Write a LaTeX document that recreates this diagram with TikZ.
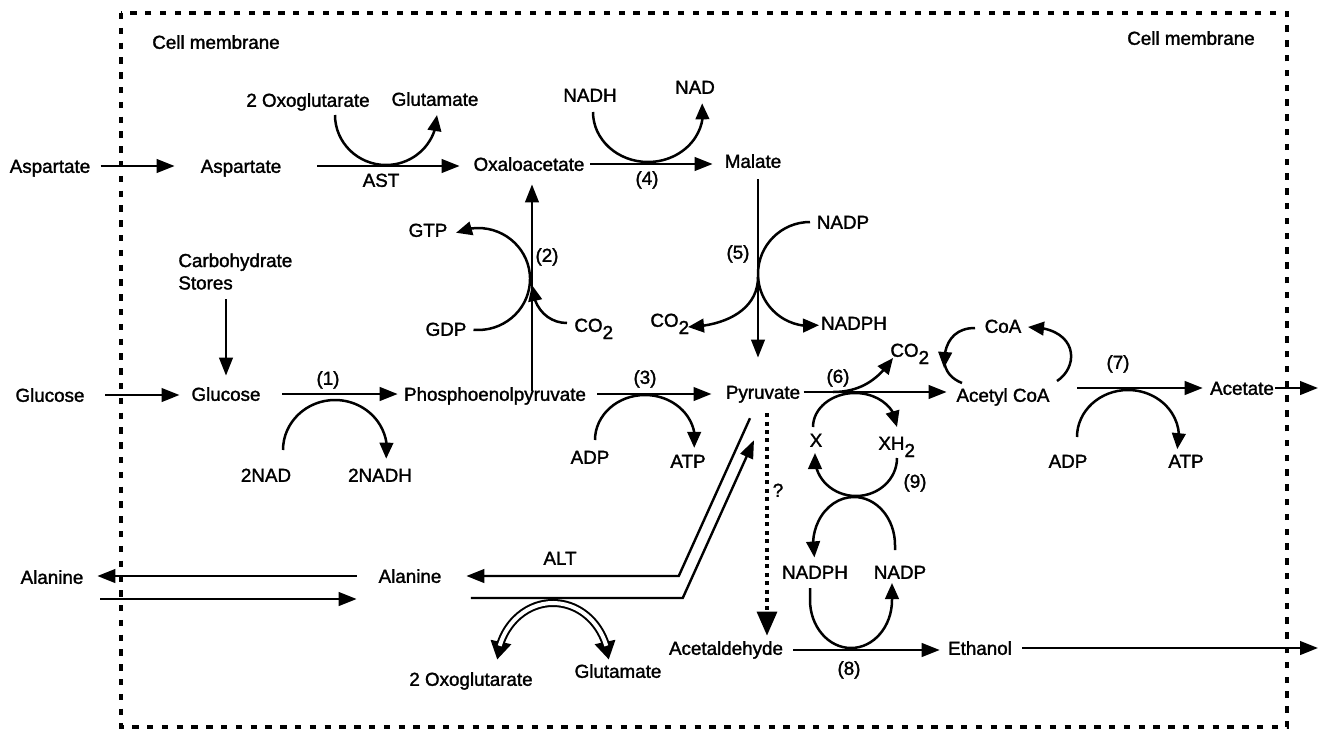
\documentclass[tikz,border=0pt]{standalone}
\usepackage{fontspec}
\setmainfont{Liberation Sans}[FakeBold=1.6]
\usetikzlibrary{arrows.meta,bending}
\newcommand{\lowtwo}{\smash{\raisebox{-3.6pt}{2}}}
\begin{document}
\begin{tikzpicture}[x=0.5pt,y=0.5pt,
  lbl/.style={font=\fontsize{9.4}{11.2}\selectfont, inner sep=0pt, text height=6.8pt, text depth=0pt},
  arr/.style={line width=1.2pt, -{Triangle[length=9pt,width=6.8pt]}},
  carc/.style={line width=1.25pt, -{Triangle[length=8pt,width=6.8pt]}},
  cln/.style={line width=1.25pt},
  membrane/.style={line width=1.6pt, dash pattern=on 3.2pt off 4.2pt},
  dasharr/.style={line width=1.6pt, dash pattern=on 2pt off 2.2pt, -{Triangle[length=12pt,width=10pt]}},
  bandout/.style={line width=4pt, {Triangle[length=9pt,width=10pt]}-{Triangle[length=9pt,width=10pt]}},
  bandin/.style={line width=2pt, white}
]
\useasboundingbox (0,0) rectangle (1318,-734);
\draw[membrane] (121,-13) rectangle (1287,-727);

% ---------- labels ----------
\node[lbl] (cmA) at (216,-42) {Cell membrane};
\node[lbl] (cmB) at (1191,-38) {Cell membrane};
\node[lbl] (aspO) at (50,-166) {Aspartate};
\node[lbl] (aspI) at (241,-166) {Aspartate};
\node[lbl] (oxgA) at (308,-100) {2 Oxoglutarate};
\node[lbl] (gluA) at (435,-99) {Glutamate};
\node[lbl] (ast) at (381,-180) {AST};
\node[lbl] (oxa) at (529,-164) {Oxaloacetate};
\node[lbl] (nadhA) at (590,-95) {NADH};
\node[lbl] (nadA) at (695,-87) {NAD};
\node[lbl] (r4) at (647,-178) {(4)};
\node[lbl] (mal) at (753,-161) {Malate};
\node[lbl] (gtp) at (428,-230) {GTP};
\node[lbl] (r2) at (547,-255) {(2)};
\node[lbl] (gdp) at (446,-329) {GDP};
\node[lbl,anchor=west] (co2A) at (574,-325) {CO\lowtwo};
\node[lbl] (r5) at (738,-252) {(5)};
\node[lbl] (nadpA) at (843,-222) {NADP};
\node[lbl,anchor=west] (co2B) at (650,-320) {CO\lowtwo};
\node[lbl] (nadphA) at (854,-323) {NADPH};
\node[font=\fontsize{9.4}{11.2}\selectfont, inner sep=0pt, align=left, anchor=north west] (carb) at (178,-253) {Carbohydrate\\Stores};
\node[lbl] (gluO) at (50,-395) {Glucose};
\node[lbl] (gluI) at (226,-394) {Glucose};
\node[lbl] (r1) at (328,-378) {(1)};
\node[lbl] (nad2) at (266,-475) {2NAD};
\node[lbl] (nadh2) at (380,-475) {2NADH};
\node[lbl] (pep) at (495,-394) {Phosphoenolpyruvate};
\node[lbl] (r3) at (645,-377) {(3)};
\node[lbl] (adpA) at (590,-457) {ADP};
\node[lbl] (atpA) at (688,-461) {ATP};
\node[lbl] (pyr) at (763,-392) {Pyruvate};
\node[lbl] (r6) at (838,-376) {(6)};
\node[lbl,anchor=west] (co2C) at (890,-350) {CO\lowtwo};
\node[lbl] (xx) at (816,-440) {X};
\node[lbl,anchor=west] (xh2) at (878,-443) {XH\lowtwo};
\node[lbl] (r9) at (915,-481) {(9)};
\node[lbl] (qm) at (778,-490) {?};
\node[lbl] (coa) at (1003,-326) {CoA};
\node[lbl] (acoa) at (1003,-395) {Acetyl CoA};
\node[lbl] (r7) at (1118,-362) {(7)};
\node[lbl] (acet) at (1242,-388) {Acetate};
\node[lbl] (adpB) at (1068,-461) {ADP};
\node[lbl] (atpB) at (1186,-461) {ATP};
\node[lbl] (alaO) at (52,-577) {Alanine};
\node[lbl] (alaI) at (410,-576) {Alanine};
\node[lbl] (alt) at (560,-558) {ALT};
\node[lbl] (nadphB) at (815,-572) {NADPH};
\node[lbl] (nadpB) at (900,-572) {NADP};
\node[lbl] (acal) at (726,-648) {Acetaldehyde};
\node[lbl] (eth) at (980,-648) {Ethanol};
\node[lbl] (r8) at (849,-668) {(8)};
\node[lbl] (oxgB) at (471,-679) {2 Oxoglutarate};
\node[lbl] (gluB) at (618,-671) {Glutamate};

% ---------- main arrows ----------
\draw[arr, shorten <=5pt, shorten >=12.9pt] (aspO.east) -- (aspO.east -| aspI.west);
\draw[arr, shorten <=17.9pt, shorten >=6.8pt] (aspI.east) -- (aspI.east -| oxa.west);
\draw[arr, shorten <=2.8pt, shorten >=5.9pt] (oxa.east) -- (oxa.east -| mal.west);
\draw[arr, shorten <=5.6pt, shorten >=13.6pt] ([xshift=2.5pt]mal.south) -- ([xshift=2.5pt]mal.south |- pyr.north);
\draw[arr, shorten <=-2pt, shorten >=6.6pt] ([xshift=18.5pt]pep.north) -- ([xshift=18.5pt]pep.north |- oxa.south);
\draw[arr, shorten <=4.5pt, shorten >=5.6pt] (carb.south -| gluI.north) -- (gluI.north);
\draw[arr, shorten <=10.3pt, shorten >=5.8pt] (gluO.east) -- (gluO.east -| gluI.west);
\draw[arr, shorten <=10.8pt, shorten >=3pt] (gluI.east) -- (gluI.east -| pep.west);
\draw[arr, shorten <=5.5pt, shorten >=7pt] (pep.east) -- (pep.east -| pyr.west);
\draw[arr, shorten <=1.5pt, shorten >=4.75pt] (pyr.east) -- (pyr.east -| acoa.west);
\draw[arr, shorten <=13.75pt, shorten >=3.5pt] (acoa.east |- acet.west) -- (acet.west);
\coordinate (acetOut) at (1318,-388);
\draw[arr, shorten <=0.5pt] (acet.east) -- (acetOut);
\coordinate (ethOut) at (1318,-648);
\draw[arr, shorten <=5pt] (eth.east) -- (ethOut);
\draw[arr, shorten <=5pt, shorten >=4pt] ([yshift=-1pt]acal.east) -- ([yshift=-1pt]acal.east -| eth.west);
\draw[dasharr, shorten >=9.6pt] ([shift={(4,-14)}]pyr.south) -- ([shift={(4,-14)}]pyr.south |- acal.north);

% ALT double path
\draw[arr, shorten >=12.3pt] ([shift={(-13,-19)}]pyr.south) -- ([xshift=118.5pt]alaI.east) -- (alaI.east);
\draw[arr] ([shift={(29,-22)}]alaI.east) -- ([shift={(241,-22)}]alaI.east) -- ([shift={(-9,-41)}]pyr.south);

% Alanine transport
\draw[arr, shorten <=10.8pt, shorten >=6.8pt] (alaI.west) -- (alaI.west -| alaO.east);
\draw[arr, shorten <=8.3pt, shorten >=10.8pt] ([yshift=-11pt]alaO.east) -- ([yshift=-11pt]alaO.east -| alaI.west);

% ---------- cofactor arcs ----------
\coordinate (kAST) at (335,-115);
\draw[carc] (kAST) arc[start angle=180,end angle=360,x radius=51,y radius=50];
\coordinate (kF) at (593,-112);
\draw[carc] (kF) arc[start angle=180,end angle=370,x radius=55,y radius=50];
\coordinate (kGDP) at (473.5,-329.8);
\draw[carc] (kGDP) arc[start angle=-95,end angle=115,x radius=52,y radius=51];
\coordinate (kCOa) at (567,-323);
\draw[carc] (kCOa) .. controls (548,-323) and (533,-308) .. (532,-285);
\coordinate (kNADP) at (810,-222);
\draw[carc] (kNADP) arc[start angle=90,end angle=280,radius=52];
\coordinate (kCOb) at (758,-277);
\draw[carc] (kCOb) .. controls (758,-310) and (725,-326) .. (688,-327);
\coordinate (kA) at (283,-450);
\draw[carc] (kA) arc[start angle=180,end angle=-10,x radius=52,y radius=50];
\coordinate (kC) at (595,-440);
\draw[carc] (kC) arc[start angle=180,end angle=-10,x radius=50,y radius=45];
\coordinate (kG) at (1077,-437);
\draw[carc] (kG) arc[start angle=180,end angle=-15,x radius=51,y radius=47];
\coordinate (kCOc) at (833,-392);
\draw[carc] (kCOc) .. controls (860,-392) and (878,-380) .. (893,-358);
\coordinate (kX) at (813,-427);
\draw[carc] (kX) arc[start angle=180,end angle=0,x radius=42,y radius=34];
\coordinate (kXH) at (897,-458);
\draw[carc] (kXH) arc[start angle=0,end angle=-180,x radius=41,y radius=38] -- ++(0,5);
\coordinate (kNP) at (895,-550);
\draw[carc] (kNP) -- ++(0,5) arc[start angle=0,end angle=195,x radius=41,y radius=48];
\coordinate (kNPH) at (810,-588);
\draw[carc] (kNPH) -- ++(0,-12) arc[start angle=180,end angle=360,x radius=41,y radius=48] -- ++(0,17);
% CoA cycle
\coordinate (kCoA) at (975,-328);
\draw[carc] (kCoA) .. controls (952,-328) and (943,-345) .. (944,-368);
\coordinate (kCoB) at (944,-360);
\draw[cln] (kCoB) .. controls (945,-372) and (952,-379) .. (962,-383);
\coordinate (kCoC) at (1057,-381);
\draw[carc] (kCoC) .. controls (1080,-366) and (1078,-327) .. (1028,-327);
% ALT cofactor hollow arc
\coordinate (kALTc) at (553,-665);
\draw[bandout] ([shift={(175:56 and 62)}]kALTc) arc[start angle=175,end angle=5,x radius=56,y radius=62];
\draw[bandin] ([shift={(162:56 and 62)}]kALTc) arc[start angle=162,end angle=18,x radius=56,y radius=62];
\end{tikzpicture}
\end{document}
